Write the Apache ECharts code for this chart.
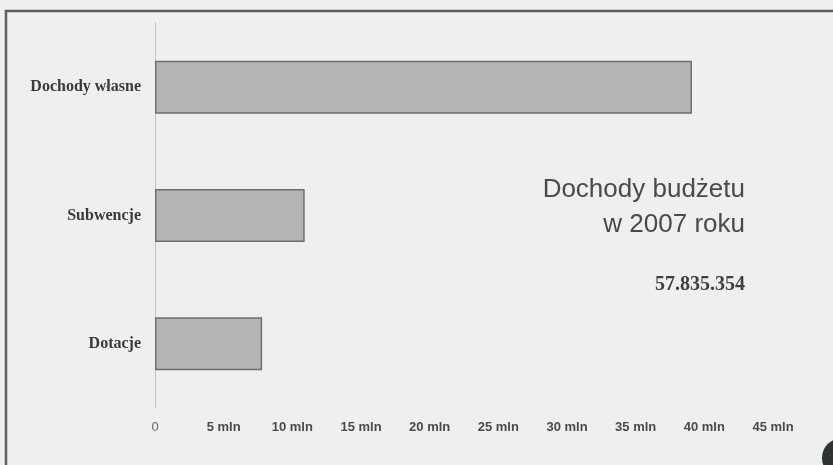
<!DOCTYPE html>
<html>
<head>
<meta charset="utf-8">
<script src="https://cdn.jsdelivr.net/npm/echarts@6/dist/echarts.min.js"></script>
<style>
  html, body { margin: 0; padding: 0; background: #efefef; }
  #chart { width: 833px; height: 465px; }
</style>
</head>
<body>
<div id="chart"></div>
<script>
// Data (values in mln PLN)
const categories = ['Dochody własne', 'Subwencje', 'Dotacje'];
const values = [39.1, 10.9, 7.8];
const titleLines = ['Dochody budżetu', 'w 2007 roku'];
const totalLabel = '57.835.354';
const axisMax = 45;
const axisStep = 5;

const chart = echarts.init(document.getElementById('chart'), null, { renderer: 'canvas' });

const option = {
  backgroundColor: '#efefef',
  animation: false,
  grid: { left: 155, right: 60, top: 23, bottom: 57, containLabel: false },
  xAxis: {
    type: 'value',
    min: 0,
    max: axisMax,
    interval: axisStep,
    axisLine: { show: false },
    axisTick: { show: false },
    splitLine: { show: false },
    axisLabel: {
      margin: 13,
      formatter: function (v) { return v === 0 ? '{z|0}' : '{b|' + v + ' mln}'; },
      rich: {
        z: { fontFamily: 'Liberation Sans, Arial, sans-serif', fontSize: 13, color: '#6a6a6a' },
        b: { fontFamily: 'Liberation Sans, Arial, sans-serif', fontSize: 13, fontWeight: 'bold', color: '#4a4a4a' }
      }
    }
  },
  yAxis: {
    type: 'category',
    data: categories,
    inverse: true,
    axisLine: { show: true, lineStyle: { color: '#b8b8b8', type: 'dotted', width: 1 } },
    axisTick: { show: false },
    axisLabel: {
      margin: 14,
      fontFamily: 'Liberation Serif, Times New Roman, serif',
      fontSize: 16,
      fontWeight: 'bold',
      color: '#3a3a3a'
    }
  },
  series: [{
    type: 'bar',
    data: values,
    barWidth: 53,
    itemStyle: { color: '#b4b4b4', borderColor: '#6e6e6e', borderWidth: 1.5 }
  }],
  graphic: [
    {
      type: 'rect',
      shape: { x: 6, y: 11, width: 840, height: 470 },
      style: { fill: 'none', stroke: '#5e5e5e', lineWidth: 2.5 },
      silent: true
    },
    {
      type: 'text',
      x: 745, y: 177,
      style: {
        text: titleLines[0], textAlign: 'right', textVerticalAlign: 'top',
        font: 'normal 26px "Liberation Sans", Arial, sans-serif', fill: '#4a4a4a'
      },
      silent: true
    },
    {
      type: 'text',
      x: 745, y: 212,
      style: {
        text: titleLines[1], textAlign: 'right', textVerticalAlign: 'top',
        font: 'normal 26px "Liberation Sans", Arial, sans-serif', fill: '#4a4a4a'
      },
      silent: true
    },
    {
      type: 'text',
      x: 745, y: 275,
      style: {
        text: totalLabel, textAlign: 'right', textVerticalAlign: 'top',
        font: 'bold 20px "Liberation Serif", "Times New Roman", serif', fill: '#3f3f3f'
      },
      silent: true
    },
    {
      type: 'circle',
      shape: { cx: 842, cy: 458, r: 20 },
      style: { fill: '#2f3432' },
      silent: true
    }
  ]
};

chart.setOption(option);
</script>
</body>
</html>
